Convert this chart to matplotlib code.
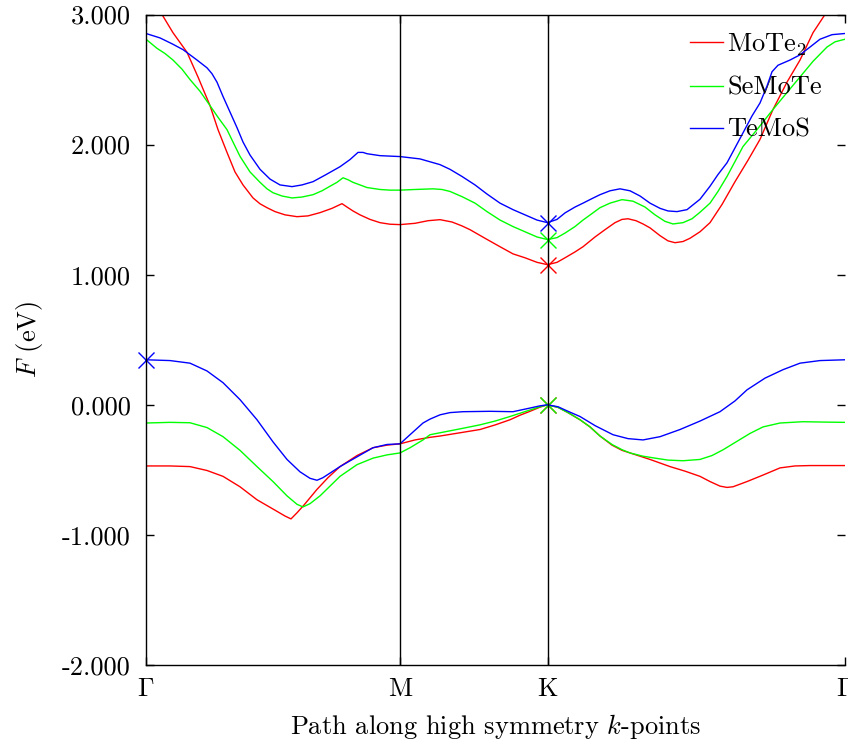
import matplotlib
matplotlib.use("Agg")
import matplotlib.pyplot as plt

plt.rcParams['font.family'] = 'cmr10'
plt.rcParams['mathtext.fontset'] = 'cm'
plt.rcParams['axes.formatter.use_mathtext'] = True

# high symmetry points along the path (units of 2pi/a)
kpoint_pos = [0.0, 0.5732, 0.9061, 1.5774]
kpoint_labels = [r'$\Gamma$', 'M', 'K', r'$\Gamma$']

ytick_vals = [3.0, 2.0, 1.0, 0.0, -1.0, -2.0]
ytick_labels = ['3.000', '2.000', '1.000', '0.000', '-1.000', '-2.000']

# MoTe2 bands
mote2_cb_k = [0.0, 0.0203, 0.0361, 0.0609, 0.0925, 0.1173, 0.1444, 0.1625, 0.1828, 0.2008,
              0.2189, 0.2415, 0.2573, 0.2731, 0.2911, 0.3137, 0.3408, 0.3656, 0.3927, 0.4197,
              0.4423, 0.4536, 0.4671, 0.4829, 0.5055, 0.5281, 0.5506, 0.5732, 0.6071, 0.6364,
              0.6635, 0.6906, 0.7131, 0.7312, 0.7650, 0.7989, 0.8282, 0.8553, 0.8824, 0.9061,
              0.9275, 0.9456, 0.9681, 0.9862, 1.0133, 1.0358, 1.0584, 1.0742, 1.0877, 1.1058,
              1.1216, 1.1374, 1.1600, 1.1780, 1.1938, 1.2118, 1.2276, 1.2502, 1.2728, 1.2999,
              1.3292, 1.3585, 1.3856, 1.4149, 1.4465, 1.4759, 1.5052, 1.5323, 1.5549, 1.5774]
mote2_cb_e = [3.22, 3.10, 3.0, 2.86, 2.71, 2.52, 2.30, 2.115, 1.94, 1.79,
              1.69, 1.59, 1.545, 1.515, 1.485, 1.46, 1.446, 1.452, 1.477, 1.51,
              1.546, 1.52, 1.49, 1.46, 1.425, 1.40, 1.388, 1.385, 1.395, 1.415,
              1.423, 1.405, 1.375, 1.346, 1.28, 1.215, 1.16, 1.13, 1.095, 1.077,
              1.095, 1.13, 1.175, 1.215, 1.29, 1.346, 1.40, 1.425, 1.43, 1.415,
              1.39, 1.36, 1.30, 1.26, 1.246, 1.255, 1.28, 1.33, 1.40, 1.54,
              1.715, 1.88, 2.04, 2.27, 2.48, 2.65, 2.86, 3.0, 3.12, 3.22]
mote2_vb_k = [0.0, 0.0542, 0.0993, 0.1377, 0.1738, 0.2121, 0.2505, 0.2911, 0.3137, 0.3272,
              0.3408, 0.3566, 0.3859, 0.4107, 0.4378, 0.4762, 0.5123, 0.5439, 0.5732, 0.6071,
              0.6409, 0.6635, 0.7086, 0.7537, 0.7876, 0.8214, 0.8440, 0.8666, 0.8891, 0.9061,
              0.9298, 0.9523, 0.9794, 1.0020, 1.0245, 1.0516, 1.0742, 1.0922, 1.1374, 1.1825,
              1.2164, 1.2502, 1.2728, 1.2953, 1.3111, 1.3247, 1.3563, 1.3924, 1.4308, 1.4646,
              1.4985, 1.5774]
mote2_vb_e = [-0.47, -0.47, -0.475, -0.505, -0.55, -0.63, -0.73, -0.81, -0.855, -0.877,
              -0.83, -0.77, -0.65, -0.56, -0.475, -0.39, -0.33, -0.31, -0.30, -0.27,
              -0.25, -0.24, -0.215, -0.19, -0.155, -0.115, -0.08, -0.05, -0.018, 0.0,
              -0.02, -0.06, -0.115, -0.17, -0.24, -0.31, -0.35, -0.37, -0.42, -0.475,
              -0.51, -0.55, -0.59, -0.625, -0.635, -0.63, -0.59, -0.54, -0.485, -0.47,
              -0.467, -0.467]

# SeMoTe bands
semote_cb_k = [0.0, 0.0248, 0.0429, 0.0609, 0.0812, 0.0993, 0.1219, 0.1444, 0.1625, 0.1828,
               0.1963, 0.2121, 0.2347, 0.2573, 0.2731, 0.2866, 0.3069, 0.3295, 0.3520, 0.3769,
               0.3972, 0.4152, 0.4310, 0.4446, 0.4558, 0.4671, 0.4829, 0.4987, 0.5281, 0.5506,
               0.5732, 0.6071, 0.6477, 0.6680, 0.6860, 0.7131, 0.7425, 0.7695, 0.7989, 0.8282,
               0.8553, 0.8824, 0.9061, 0.9275, 0.9456, 0.9681, 0.9862, 1.0065, 1.0245, 1.0471,
               1.0742, 1.0990, 1.1261, 1.1487, 1.1712, 1.1893, 1.2118, 1.2322, 1.2502, 1.2728,
               1.2908, 1.3111, 1.3292, 1.3472, 1.3788, 1.4149, 1.4465, 1.4759, 1.5052, 1.5368,
               1.5549, 1.5774]
semote_cb_e = [2.81, 2.74, 2.70, 2.65, 2.58, 2.50, 2.41, 2.30, 2.21, 2.115,
               2.02, 1.91, 1.79, 1.71, 1.66, 1.63, 1.605, 1.59, 1.597, 1.615,
               1.645, 1.68, 1.71, 1.745, 1.73, 1.71, 1.69, 1.67, 1.655, 1.65,
               1.65, 1.655, 1.66, 1.655, 1.64, 1.60, 1.55, 1.485, 1.42, 1.37,
               1.33, 1.29, 1.27, 1.285, 1.32, 1.37, 1.42, 1.47, 1.515, 1.55,
               1.577, 1.565, 1.52, 1.46, 1.41, 1.39, 1.40, 1.43, 1.48, 1.55,
               1.64, 1.755, 1.87, 1.985, 2.115, 2.27, 2.40, 2.52, 2.64, 2.75,
               2.79, 2.81]
semote_vb_k = [0.0, 0.0542, 0.0993, 0.1377, 0.1738, 0.2121, 0.2505, 0.2866, 0.3182, 0.3408,
               0.3543, 0.3701, 0.3927, 0.4378, 0.4762, 0.5123, 0.5439, 0.5732, 0.5958, 0.6251,
               0.6409, 0.6635, 0.7086, 0.7537, 0.7876, 0.8214, 0.8440, 0.8666, 0.8891, 0.9061,
               0.9298, 0.9523, 0.9794, 1.0020, 1.0245, 1.0516, 1.0742, 1.0922, 1.1216, 1.1487,
               1.1780, 1.2118, 1.2502, 1.2773, 1.3021, 1.3292, 1.3630, 1.3924, 1.4308, 1.4826,
               1.5323, 1.5774]
semote_vb_e = [-0.14, -0.135, -0.138, -0.175, -0.245, -0.35, -0.475, -0.59, -0.70, -0.765,
               -0.785, -0.76, -0.70, -0.55, -0.46, -0.41, -0.385, -0.37, -0.33, -0.27,
               -0.23, -0.215, -0.185, -0.154, -0.125, -0.09, -0.065, -0.04, -0.015, 0.0,
               -0.02, -0.06, -0.115, -0.17, -0.24, -0.305, -0.345, -0.37, -0.395, -0.41,
               -0.425, -0.43, -0.42, -0.39, -0.346, -0.29, -0.22, -0.17, -0.14, -0.13,
               -0.133, -0.135]

# TeMoS bands
temos_cb_k = [0.0, 0.0316, 0.0587, 0.0835, 0.1151, 0.1377, 0.1489, 0.1602, 0.1738, 0.1896,
              0.2054, 0.2189, 0.2347, 0.2573, 0.2798, 0.3024, 0.3295, 0.3520, 0.3769, 0.4039,
              0.4378, 0.4604, 0.4784, 0.4897, 0.4987, 0.5281, 0.5732, 0.6183, 0.6635, 0.6860,
              0.7131, 0.7425, 0.7695, 0.7989, 0.8282, 0.8553, 0.8824, 0.9061, 0.9275, 0.9456,
              0.9681, 0.9862, 1.0065, 1.0245, 1.0471, 1.0697, 1.0922, 1.1148, 1.1374, 1.1600,
              1.1780, 1.1983, 1.2209, 1.2502, 1.2728, 1.2908, 1.3111, 1.3292, 1.3472, 1.3675,
              1.3856, 1.4014, 1.4127, 1.4262, 1.4533, 1.4759, 1.4985, 1.5210, 1.5481, 1.5774]
temos_cb_e = [2.854, 2.82, 2.775, 2.73, 2.65, 2.59, 2.545, 2.48, 2.37, 2.25,
              2.13, 2.02, 1.92, 1.81, 1.735, 1.69, 1.677, 1.69, 1.715, 1.765,
              1.83, 1.885, 1.94, 1.94, 1.93, 1.915, 1.908, 1.89, 1.846, 1.81,
              1.755, 1.69, 1.62, 1.55, 1.50, 1.46, 1.42, 1.40, 1.425, 1.475,
              1.52, 1.55, 1.585, 1.615, 1.645, 1.66, 1.645, 1.605, 1.55, 1.51,
              1.49, 1.485, 1.50, 1.58, 1.68, 1.77, 1.86, 1.975, 2.09, 2.22,
              2.32, 2.45, 2.56, 2.61, 2.65, 2.69, 2.75, 2.81, 2.845, 2.854]
temos_vb_k = [0.0, 0.0542, 0.0993, 0.1377, 0.1738, 0.2121, 0.2505, 0.2866, 0.3182, 0.3475,
              0.3701, 0.3859, 0.3994, 0.4378, 0.4762, 0.5123, 0.5439, 0.5732, 0.5958, 0.6251,
              0.6409, 0.6635, 0.6860, 0.7154, 0.7763, 0.8282, 0.8666, 0.8891, 0.9061, 0.9298,
              0.9523, 0.9794, 1.0133, 1.0539, 1.0877, 1.1216, 1.1600, 1.2051, 1.2502, 1.2953,
              1.3292, 1.3563, 1.3969, 1.4375, 1.4759, 1.5210, 1.5774]
temos_vb_e = [0.346, 0.34, 0.32, 0.26, 0.17, 0.04, -0.115, -0.285, -0.42, -0.515,
              -0.565, -0.58, -0.56, -0.475, -0.40, -0.33, -0.305, -0.30, -0.23, -0.14,
              -0.11, -0.077, -0.06, -0.053, -0.05, -0.053, -0.025, -0.008, 0.0, -0.015,
              -0.05, -0.09, -0.16, -0.23, -0.26, -0.27, -0.245, -0.19, -0.125, -0.053,
              0.03, 0.115, 0.205, 0.27, 0.32, 0.34, 0.346]

# band edges (CBM / VBM) for each material
mote2_edges_k = [0.9061, 0.9061]
mote2_edges_e = [1.077, 0.0]
semote_edges_k = [0.9061, 0.9061]
semote_edges_e = [1.27, 0.0]
temos_edges_k = [0.9061, 0.0]
temos_edges_e = [1.40, 0.346]

fig = plt.figure(figsize=(8.48, 7.43), dpi=100)
ax = fig.add_axes([146 / 848, 1 - 665 / 743, 699 / 848, 650.5 / 743])

series = [
    ('MoTe$_2$', '#ff0000', mote2_cb_k, mote2_cb_e, mote2_vb_k, mote2_vb_e, mote2_edges_k, mote2_edges_e),
    ('SeMoTe', '#00ff00', semote_cb_k, semote_cb_e, semote_vb_k, semote_vb_e, semote_edges_k, semote_edges_e),
    ('TeMoS', '#0000ff', temos_cb_k, temos_cb_e, temos_vb_k, temos_vb_e, temos_edges_k, temos_edges_e),
]

for label, color, ck, ce, vk, ve, mk, me in series:
    ax.plot(ck, ce, color=color, lw=1.0, label=label)
    ax.plot(vk, ve, color=color, lw=1.0)
    ax.plot(mk, me, ls='none', marker='x', ms=11.5, mew=1.0, color=color, clip_on=False)

for kp in kpoint_pos[1:-1]:
    ax.axvline(kp, color='black', lw=1.0)

ax.set_xlim(kpoint_pos[0], kpoint_pos[-1])
ax.set_ylim(-2.0, 3.0)
ax.set_xticks(kpoint_pos, labels=kpoint_labels)
ax.set_yticks(ytick_vals, labels=ytick_labels)
ax.tick_params(axis='both', direction='in', labelsize=19, length=6, width=1.0)
ax.tick_params(axis='y', right=True, pad=11)
ax.tick_params(axis='x', top=True, pad=9)
ax.spines['right'].set_visible(False)
for side in ['left', 'top', 'bottom']:
    ax.spines[side].set_linewidth(1.0)

ax.set_ylabel(r'$F$ (eV)', fontsize=19, labelpad=12)
ax.set_xlabel(r'Path along high symmetry $k$-points', fontsize=19, labelpad=8)

ax.legend(loc='upper right', bbox_to_anchor=(0.9667, 0.9745), frameon=False, fontsize=19,
          borderpad=0, borderaxespad=0, handlelength=1.25, handletextpad=0.15,
          labelspacing=0.7)

fig.savefig('out.png', dpi=100)
